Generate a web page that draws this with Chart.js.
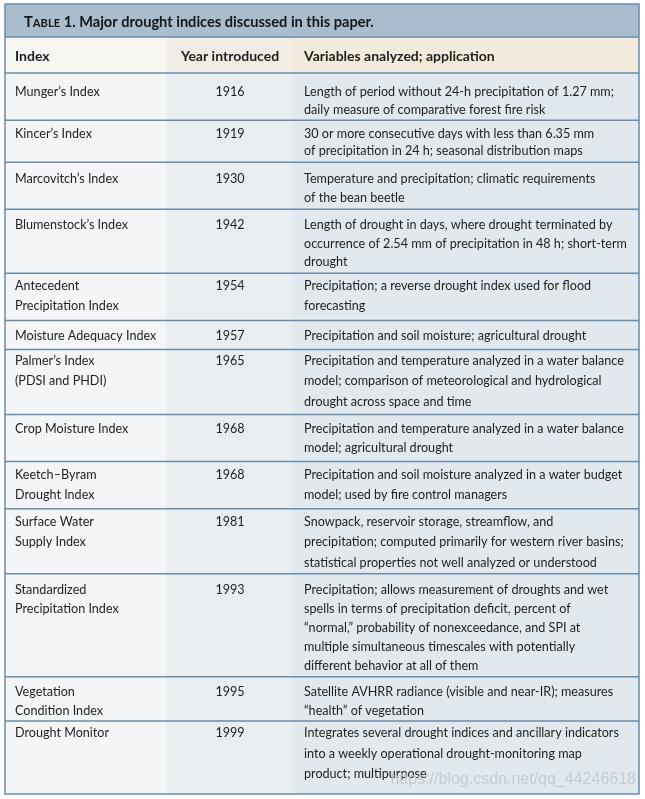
<!DOCTYPE html>
<html>
<head>
<meta charset="utf-8">
<script src="https://cdn.jsdelivr.net/npm/chart.js@4.4.0/dist/chart.umd.min.js"></script>
<style>
  html, body { margin: 0; padding: 0; background: #ffffff; }
  #wrap { width: 645px; height: 799px; position: relative; }
</style>
</head>
<body>
<div id="wrap"><canvas id="droughtTable"></canvas></div>
<script>
// ---- table content ----
const tableLabel = 'Table 1.';
const tableCaption = 'Major drought indices discussed in this paper.';
const columnHeaders = ['Index', 'Year introduced', 'Variables analyzed; application'];

const indexNames = [
    ['Munger\u2019s Index'],
    ['Kincer\u2019s Index'],
    ['Marcovitch\u2019s Index'],
    ['Blumenstock\u2019s Index'],
    ['Antecedent', 'Precipitation Index'],
    ['Moisture Adequacy Index'],
    ['Palmer\u2019s Index', '(PDSI and PHDI)'],
    ['Crop Moisture Index'],
    ['Keetch\u2013Byram', 'Drought Index'],
    ['Surface Water', 'Supply Index'],
    ['Standardized', 'Precipitation Index'],
    ['Vegetation', 'Condition Index'],
    ['Drought Monitor']
];

const yearsIntroduced = [1916, 1919, 1930, 1942, 1954, 1957, 1965, 1968, 1968, 1981, 1993, 1995, 1999];

const applications = [
    ['Length of period without 24-h precipitation of 1.27 mm;', 'daily measure of comparative forest fire risk'],
    ['30 or more consecutive days with less than 6.35 mm', 'of precipitation in 24 h; seasonal distribution maps'],
    ['Temperature and precipitation; climatic requirements', 'of the bean beetle'],
    ['Length of drought in days, where drought terminated by', 'occurrence of 2.54 mm of precipitation in 48 h; short-term', 'drought'],
    ['Precipitation; a reverse drought index used for flood', 'forecasting'],
    ['Precipitation and soil moisture; agricultural drought'],
    ['Precipitation and temperature analyzed in a water balance', 'model; comparison of meteorological and hydrological', 'drought across space and time'],
    ['Precipitation and temperature analyzed in a water balance', 'model; agricultural drought'],
    ['Precipitation and soil moisture analyzed in a water budget', 'model; used by fire control managers'],
    ['Snowpack, reservoir storage, streamflow, and', 'precipitation; computed primarily for western river basins;', 'statistical properties not well analyzed or understood'],
    ['Precipitation; allows measurement of droughts and wet', 'spells in terms of precipitation deficit, percent of', '\u201Cnormal,\u201D probability of nonexceedance, and SPI at', 'multiple simultaneous timescales with potentially', 'different behavior at all of them'],
    ['Satellite AVHRR radiance (visible and near-IR); measures', '\u201Chealth\u201D of vegetation'],
    ['Integrates several drought indices and ancillary indicators', 'into a weekly operational drought-monitoring map', 'product; multipurpose']
];

const watermark = 'https://blog.csdn.net/qq_44246618';

// ---- layout (table units) ----
const columnWidths = [162, 126, 346];
const titleHeight = 33;
const headerHeight = 36;
const rowHeights = [47, 42, 47, 64, 47, 29, 65, 47, 47, 65, 103, 44, 73];
const rowFirstBaseline = [22.5, 17.8, 20.5, 20, 17, 19.5, 16, 18, 17.5, 17, 20, 18.7, 16.5];
const rowLeading = [18.5, 17.4, 19, 18.5, 20, 19, 20, 19.3, 20, 20.5, 19, 19.5, 20.5];

const colors = {
    border: '#6a8cab',
    titleBg: '#a9bdce',
    headerBg: ['#f6f6f2', '#f0ece3', '#f2ebdd'],
    bodyBg: ['#f3f5f7', '#e8edf0', '#e2e9ee'],
    text: '#1e1e1e',
    title: '#161616',
    watermark: 'rgba(190, 198, 205, 0.85)'
};

const fontFamily = 'Lato, "Open Sans", sans-serif';
const bodyFont = `12.6px ${fontFamily}`;
const boldFont = `bold 14px ${fontFamily}`;

const totalWidth = columnWidths.reduce((a, b) => a + b, 0);
const totalHeight = titleHeight + headerHeight + rowHeights.reduce((a, b) => a + b, 0);

const tablePlugin = {
    id: 'tablePlugin',
    beforeDatasetsDraw(chart) {
        const { ctx, scales: { x, y } } = chart;
        const px = v => x.getPixelForValue(v);
        const py = v => y.getPixelForValue(v);

        const colEdges = [0];
        columnWidths.forEach(w => colEdges.push(colEdges[colEdges.length - 1] + w));
        const rowEdges = [titleHeight + headerHeight];
        rowHeights.forEach(h => rowEdges.push(rowEdges[rowEdges.length - 1] + h));

        ctx.save();

        // title bar
        ctx.fillStyle = colors.titleBg;
        ctx.fillRect(px(0), py(0), px(totalWidth) - px(0), py(titleHeight) - py(0));

        // header cells
        for (let c = 0; c < 3; c++) {
            ctx.fillStyle = colors.headerBg[c];
            ctx.fillRect(px(colEdges[c]), py(titleHeight), px(colEdges[c + 1]) - px(colEdges[c]), py(titleHeight + headerHeight) - py(titleHeight));
        }

        // body cells
        for (let c = 0; c < 3; c++) {
            ctx.fillStyle = colors.bodyBg[c];
            ctx.fillRect(px(colEdges[c]), py(rowEdges[0]), px(colEdges[c + 1]) - px(colEdges[c]), py(totalHeight) - py(rowEdges[0]));
        }

        // horizontal rules
        ctx.strokeStyle = colors.border;
        ctx.lineWidth = 1.5;
        const hLines = [titleHeight, titleHeight + headerHeight, ...rowEdges.slice(1, -1)];
        for (const v of hLines) {
            ctx.beginPath();
            ctx.moveTo(px(0), py(v));
            ctx.lineTo(px(totalWidth), py(v));
            ctx.stroke();
        }
        ctx.strokeRect(px(0), py(0), px(totalWidth) - px(0), py(totalHeight) - py(0));

        // title (small caps label + caption)
        ctx.fillStyle = colors.title;
        ctx.textBaseline = 'alphabetic';
        ctx.textAlign = 'left';
        let tx = px(19);
        const tyBase = py(22.5);
        const big = `bold 14.6px ${fontFamily}`;
        const small = `bold 11.2px ${fontFamily}`;
        const label = tableLabel.split(' ');
        ctx.font = big;
        ctx.fillText(label[0][0], tx, tyBase);
        tx += ctx.measureText(label[0][0]).width;
        ctx.font = small;
        ctx.fillText(label[0].slice(1).toUpperCase(), tx, tyBase);
        tx += ctx.measureText(label[0].slice(1).toUpperCase()).width;
        ctx.font = big;
        const rest = ' ' + label[1] + ' ' + tableCaption;
        ctx.fillText(rest, tx, tyBase);

        // column headers
        ctx.fillStyle = colors.text;
        ctx.font = boldFont;
        const hb = py(titleHeight + 24);
        ctx.textAlign = 'left';
        ctx.fillText(columnHeaders[0], px(colEdges[0] + 10), hb);
        ctx.textAlign = 'center';
        ctx.fillText(columnHeaders[1], px((colEdges[1] + colEdges[2]) / 2), hb);
        ctx.textAlign = 'left';
        ctx.fillText(columnHeaders[2], px(colEdges[2] + 11), hb);

        // body rows
        ctx.font = bodyFont;
        for (let r = 0; r < indexNames.length; r++) {
            const top = rowEdges[r];
            const b0 = top + rowFirstBaseline[r];
            const lead = rowLeading[r];
            ctx.textAlign = 'left';
            indexNames[r].forEach((line, i) => ctx.fillText(line, px(colEdges[0] + 10), py(b0 + i * lead)));
            ctx.textAlign = 'center';
            ctx.fillText(String(yearsIntroduced[r]), px((colEdges[1] + colEdges[2]) / 2), py(b0));
            ctx.textAlign = 'left';
            applications[r].forEach((line, i) => ctx.fillText(line, px(colEdges[2] + 11), py(b0 + i * lead)));
        }

        // watermark
        ctx.font = `16px "Liberation Sans", Arial, sans-serif`;
        ctx.fillStyle = colors.watermark;
        ctx.textAlign = 'right';
        ctx.fillText(watermark, px(totalWidth - 3), py(rowEdges[rowEdges.length - 1] - 10));

        ctx.restore();
    }
};

new Chart(document.getElementById('droughtTable'), {
    type: 'scatter',
    data: { datasets: [] },
    options: {
        responsive: true,
        maintainAspectRatio: false,
        animation: false,
        layout: { padding: { left: 5, right: 6, top: 4, bottom: 5 } },
        plugins: { legend: { display: false }, tooltip: { enabled: false } },
        scales: {
            x: { type: 'linear', min: 0, max: totalWidth, offset: false, display: false },
            y: { type: 'linear', min: 0, max: totalHeight, offset: false, reverse: true, display: false }
        }
    },
    plugins: [tablePlugin]
});
</script>
</body>
</html>
